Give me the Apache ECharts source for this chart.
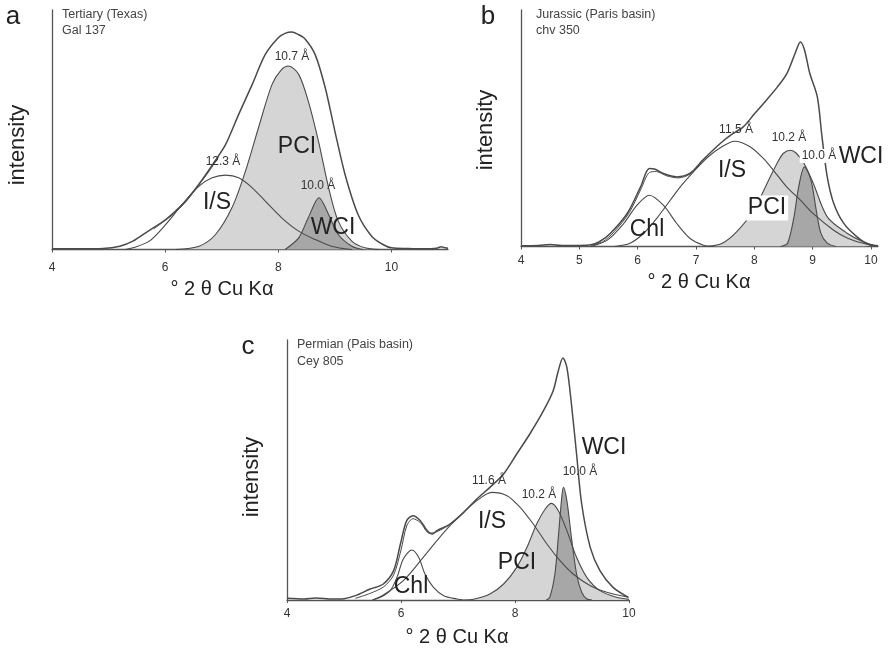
<!DOCTYPE html>
<html><head><meta charset="utf-8">
<script src="https://cdn.jsdelivr.net/npm/echarts@6/dist/echarts.min.js"></script>
<style>html,body{margin:0;padding:0;background:#fff}#c{width:892px;height:650px}</style>
</head><body><div id="c"></div>
<script>
// ---- Panel a: Tertiary (Texas), Gal 137 ----
const aTicks = [4, 6, 8, 10];
const aTotal = [[4.0,2],[4.5,2],[4.9,3],[5.2,10],[5.43,25],[5.7,55],[6.01,90],[6.2,118],[6.36,145],[6.55,185],[6.72,225],[6.9,270],[7.07,315],[7.3,405],[7.54,495],[7.77,585],[8.0,635],[8.12,648],[8.24,652],[8.35,645],[8.47,632],[8.65,585],[8.83,485],[9.0,355],[9.18,225],[9.41,105],[9.65,40],[9.85,15],[10.0,5],[10.3,3],[10.6,2],[10.8,4],[10.88,8],[10.95,5],[11.0,4]];
const aFit = [[5.8,62],[6.01,88],[6.2,114],[6.4,150],[6.6,195],[6.8,240],[6.95,280]];
const aIS = [[5.3,0],[5.43,5],[5.72,25],[6.01,75],[6.3,135],[6.6,190],[6.83,215],[7.07,223],[7.3,215],[7.54,185],[7.77,145],[8.06,95],[8.36,55],[8.65,30],[8.94,10],[9.3,0]];
const aPCI = [[6.19,0],[6.6,10],[6.89,45],[7.18,125],[7.42,235],[7.65,365],[7.89,495],[8.06,540],[8.18,550],[8.36,525],[8.53,445],[8.71,325],[8.89,185],[9.06,85],[9.3,25],[9.53,5],[9.8,0]];
const aWCI = [[8.12,0],[8.36,35],[8.53,95],[8.72,155],[8.89,105],[9.06,45],[9.3,10],[9.5,0]];

// ---- Panel b: Jurassic (Paris basin), chv 350 ----
const bTicks = [4, 5, 6, 7, 8, 9, 10];
const bTotal = [[4.0,2],[4.3,3],[4.5,6],[4.7,3],[5.0,3],[5.2,5],[5.35,15],[5.53,39],[5.82,99],[6.05,179],[6.2,234],[6.3,232],[6.44,219],[6.67,209],[6.9,220],[7.13,262],[7.42,310],[7.6,335],[7.81,359],[8.01,400],[8.21,440],[8.4,480],[8.56,520],[8.7,580],[8.79,614],[8.86,590],[8.95,520],[9.08,449],[9.16,329],[9.25,209],[9.36,130],[9.53,70],[9.76,29],[9.97,5],[10.12,2]];
const bFit = [[5.2,3],[5.4,14],[5.6,45],[5.85,100],[6.05,170],[6.2,222],[6.32,225],[6.5,212],[6.7,206],[6.9,218],[7.1,258]];
const bChl = [[5.2,0],[5.48,19],[5.76,69],[5.99,124],[6.2,154],[6.44,124],[6.67,69],[6.9,24],[7.13,4],[7.3,0]];
const bIS = [[5.6,0],[5.87,10],[6.1,39],[6.33,85],[6.73,179],[6.96,225],[7.2,268],[7.45,300],[7.66,316],[7.92,300],[8.15,265],[8.33,228],[8.55,180],[8.79,139],[9.0,100],[9.36,49],[9.6,25],[9.9,8],[10.12,3]];
const bPCI = [[7.2,0],[7.45,10],[7.7,45],[7.99,109],[8.22,190],[8.39,250],[8.5,280],[8.62,289],[8.72,280],[8.85,250],[9.01,190],[9.25,89],[9.59,40],[9.87,14],[10.05,3]];
const bWCI = [[8.45,0],[8.57,10],[8.68,89],[8.76,179],[8.86,239],[8.97,200],[9.06,110],[9.14,40],[9.25,10],[9.4,0]];

// ---- Panel c: Permian (Pais basin), Cey 805 ----
const cTicks = [4, 6, 8, 10];
const cTotal = [[4.0,5],[4.3,3],[4.5,6],[4.8,3],[5.0,4],[5.2,13],[5.46,33],[5.69,48],[5.87,88],[5.99,168],[6.1,238],[6.21,253],[6.34,238],[6.45,210],[6.55,198],[6.63,208],[6.86,228],[7.1,263],[7.33,303],[7.56,338],[7.8,378],[8.03,438],[8.26,498],[8.5,568],[8.67,628],[8.76,688],[8.84,726],[8.91,698],[8.99,588],[9.08,438],[9.17,288],[9.32,158],[9.49,88],[9.72,38],[9.99,8]];
const cFit = [[5.2,5],[5.46,20],[5.7,40],[5.87,75],[6.0,150],[6.1,222],[6.21,244],[6.34,232],[6.5,200],[6.63,205],[6.86,226]];
const cChl = [[5.5,0],[5.64,8],[5.81,28],[5.93,68],[6.04,123],[6.19,150],[6.31,128],[6.42,78],[6.57,38],[6.75,13],[6.98,3],[7.1,0]];
const cIS = [[5.5,0],[5.69,15],[6.04,58],[6.39,128],[6.63,178],[6.86,223],[7.1,263],[7.33,298],[7.59,323],[7.86,313],[8.09,278],[8.32,228],[8.56,168],[8.79,118],[9.02,78],[9.32,43],[9.61,23],[9.99,8]];
const cPCI = [[7.1,0],[7.27,2],[7.56,18],[7.8,48],[8.03,98],[8.21,158],[8.38,228],[8.53,273],[8.64,290],[8.76,268],[8.91,208],[9.08,128],[9.26,68],[9.49,28],[9.78,8],[10.0,2]];
const cWCI = [[8.55,0],[8.61,8],[8.7,78],[8.76,188],[8.82,308],[8.85,338],[8.91,298],[8.99,188],[9.08,78],[9.17,23],[9.26,3],[9.35,0]];

const FONT = '"Liberation Sans", Arial, Helvetica, sans-serif';
const LINE = '#4a4a4a';
const LIGHT = '#d5d5d5';
const DARK = '#a7a7a7';

const grids = [
  {left: 52, top: 10, width: 396, height: 239.5},
  {left: 521, top: 10, width: 357, height: 236.5},
  {left: 287, top: 340, width: 342, height: 260}
];
const xRanges = [[4, 11, aTicks, 12], [4, 10.12, bTicks, 8], [4, 10, cTicks, 8]];
const yMax = [718, 710, 780];

const xAxes = xRanges.map((r, i) => ({
  type: 'value', gridIndex: i, min: r[0], max: r[1],
  axisLine: {show: true, onZero: false, lineStyle: {color: '#555', width: 1.3}},
  axisTick: {show: true, length: 3, customValues: r[2], lineStyle: {color: '#555'}},
  axisLabel: {customValues: r[2], margin: r[3], color: '#333', fontSize: 12, fontFamily: FONT},
  splitLine: {show: false}
}));
const yAxes = yMax.map((m, i) => ({
  type: 'value', gridIndex: i, min: 0, max: m,
  axisLine: {show: true, lineStyle: {color: '#555', width: 1.3}},
  axisTick: {show: false}, axisLabel: {show: false}, splitLine: {show: false}
}));

function curve(idx, data, opts) {
  const s = {
    type: 'line', xAxisIndex: idx, yAxisIndex: idx, data: data,
    showSymbol: false, symbol: 'none', smooth: 0.3, silent: true,
    lineStyle: {color: LINE, width: (opts && opts.w) || 1.1},
    z: (opts && opts.z) || 3
  };
  if (opts && opts.fill) {
    s.areaStyle = {color: opts.fill, opacity: 1};
    s.lineStyle = {width: 0, color: opts.fill};
  }
  return s;
}

const series = [];
const panels = [
  {i: 0, total: aTotal, fit: aFit, pci: aPCI, wci: aWCI, others: [aIS]},
  {i: 1, total: bTotal, fit: bFit, pci: bPCI, wci: bWCI, others: [bIS, bChl]},
  {i: 2, total: cTotal, fit: cFit, pci: cPCI, wci: cWCI, others: [cIS, cChl]}
];
panels.forEach(p => {
  series.push(curve(p.i, p.pci, {fill: LIGHT, z: 1}));
  series.push(curve(p.i, p.wci, {fill: DARK, z: 2}));
  series.push(curve(p.i, p.pci, {z: 3}));
  series.push(curve(p.i, p.wci, {z: 3}));
  p.others.forEach(o => series.push(curve(p.i, o, {z: 3})));
  series.push(curve(p.i, p.fit, {z: 3, w: 1}));
  series.push(curve(p.i, p.total, {z: 4, w: 1.5}));
});

function txt(t, x, y, size, opt) {
  opt = opt || {};
  const st = {text: t, fontSize: size, fontFamily: FONT, fill: opt.fill || '#333',
    align: opt.align || 'center', verticalAlign: 'middle'};
  if (opt.bg) { st.backgroundColor = '#fff'; st.padding = [1, 2]; }
  return {type: 'text', x: x, y: y, rotation: opt.rot || 0, z: 100, style: st};
}

const XT = '° 2 θ Cu Kα';
const graphic = [
  txt('a', 13, 17, 26, {fill: '#222'}),
  txt('b', 488, 17, 26, {fill: '#222'}),
  txt('c', 248, 347, 26, {fill: '#222'}),
  txt('Tertiary (Texas)', 62, 15, 12.5, {align: 'left', fill: '#444'}),
  txt('Gal 137', 62, 31, 12.5, {align: 'left', fill: '#444'}),
  txt('Jurassic (Paris basin)', 536, 15, 12.5, {align: 'left', fill: '#444'}),
  txt('chv 350', 536, 31, 12.5, {align: 'left', fill: '#444'}),
  txt('Permian (Pais basin)', 297, 345, 12.5, {align: 'left', fill: '#444'}),
  txt('Cey 805', 297, 362, 12.5, {align: 'left', fill: '#444'}),
  txt('intensity', 18, 145, 22, {rot: Math.PI / 2, fill: '#222'}),
  txt('intensity', 486, 130, 22, {rot: Math.PI / 2, fill: '#222'}),
  txt('intensity', 252, 477, 22, {rot: Math.PI / 2, fill: '#222'}),
  txt(XT, 222, 289, 20, {fill: '#222'}),
  txt(XT, 699, 282, 20, {fill: '#222'}),
  txt(XT, 457, 637, 20, {fill: '#222'}),
  txt('12.3 Å', 223, 162, 12),
  txt('10.7 Å', 292, 57, 12),
  txt('PCI', 297, 147, 23, {fill: '#222'}),
  txt('I/S', 217, 203, 23, {fill: '#222'}),
  txt('10.0 Å', 318, 186, 12),
  txt('WCI', 333, 228, 23, {fill: '#222'}),
  txt('11.5 Å', 736, 130, 12),
  txt('10.2 Å', 789, 138, 12),
  txt('10.0 Å', 819, 156, 12, {bg: true}),
  txt('WCI', 861, 157, 23, {fill: '#222'}),
  txt('I/S', 732, 171, 23, {fill: '#222'}),
  txt('PCI', 767, 208, 23, {fill: '#222', bg: true}),
  txt('Chl', 647, 230, 23, {fill: '#222'}),
  txt('11.6 Å', 489, 481, 12),
  txt('10.2 Å', 539, 495, 12),
  txt('10.0 Å', 580, 472, 12),
  txt('WCI', 604, 448, 23, {fill: '#222'}),
  txt('I/S', 492, 522, 23, {fill: '#222'}),
  txt('PCI', 517, 563, 23, {fill: '#222'}),
  txt('Chl', 411, 587, 23, {fill: '#222'})
];

const chart = echarts.init(document.getElementById('c'), null, {renderer: 'canvas'});
chart.setOption({
  animation: false,
  backgroundColor: '#fff',
  grid: grids,
  xAxis: xAxes,
  yAxis: yAxes,
  series: series,
  graphic: graphic
});
</script></body></html>
